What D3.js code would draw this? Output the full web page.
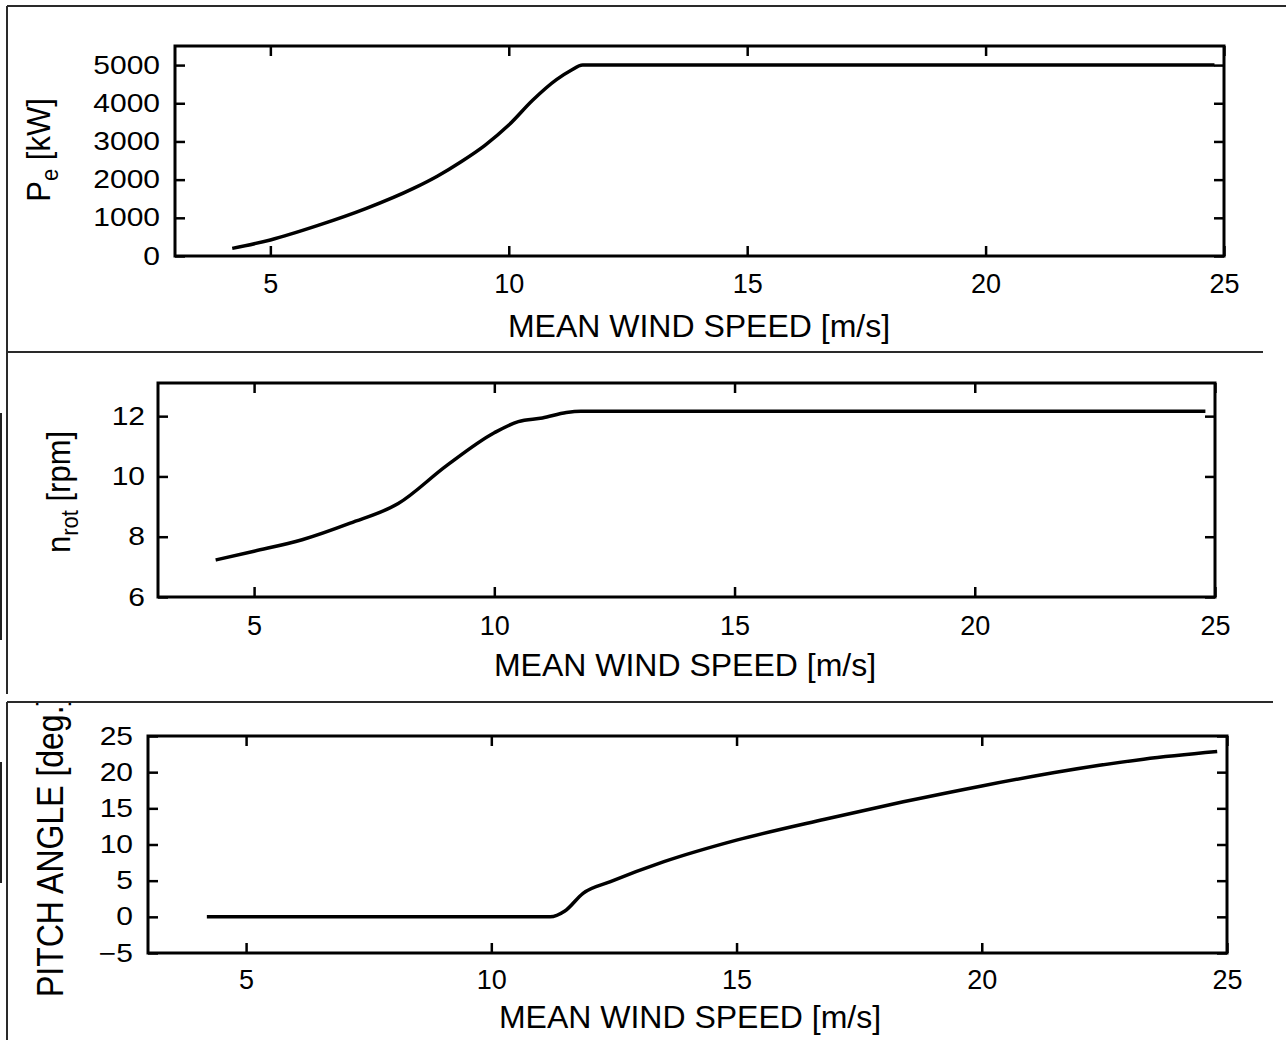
<!DOCTYPE html>
<html>
<head>
<meta charset="utf-8">
<script src="https://cdn.jsdelivr.net/npm/d3@7"></script>
<style>
  body { margin: 0; background: #fff; }
  svg text { font-family: "Liberation Sans", Arial, Helvetica, sans-serif; fill: #000; }
</style>
</head>
<body>
<script>
// data
const windPower = [4.2, 5, 6, 7, 8, 8.5, 9, 9.5, 10, 10.5, 11, 11.3, 11.55, 13, 16, 20, 24.8];
const power = [200, 420, 800, 1240, 1770, 2090, 2470, 2900, 3430, 4080, 4620, 4860, 5000, 5000, 5000, 5000, 5000];

const windRotor = [4.2, 5, 6, 7, 8, 9, 10, 10.5, 11, 11.5, 11.8, 15, 20, 24.8];
const rotorSpeed = [7.23, 7.52, 7.9, 8.45, 9.1, 10.35, 11.45, 11.82, 11.94, 12.12, 12.16, 12.16, 12.16, 12.16];

const windPitch = [4.2, 8, 11.2, 11.5, 11.87, 12.43, 13.52, 15, 16.8, 18.4, 20, 21.7, 23.3, 24.8];
const pitch = [0, 0, 0, 0.8, 3.25, 4.86, 7.62, 10.6, 13.5, 15.9, 18.1, 20.2, 21.8, 22.85];

const xTicks = [5, 10, 15, 20, 25];
const powerTicks = [0, 1000, 2000, 3000, 4000, 5000];
const rotorTicks = [6, 8, 10, 12];
const pitchTicks = [-5, 0, 5, 10, 15, 20, 25];

const width = 1286, height = 1040;

const svg = d3.select('body')
  .append('svg')
  .attr('width', width)
  .attr('height', height);

// scanned frame lines around the panels
const frame = [
  [7, 6, 1286, 6], [7, 6, 7, 694], [7, 352, 1263, 352],
  [7, 702, 1273, 702], [7, 702, 7, 1040]
];
svg.selectAll('line.frame')
  .data(frame)
  .enter()
  .append('line')
  .attr('x1', d => d[0]).attr('y1', d => d[1])
  .attr('x2', d => d[2]).attr('y2', d => d[3])
  .attr('stroke', '#2a2a2a')
  .attr('stroke-width', 2);

// little scan artifacts on the far left
svg.selectAll('line.scrap')
  .data([[413, 640], [762, 883]])
  .enter()
  .append('line')
  .attr('x1', 1).attr('x2', 1)
  .attr('y1', d => d[0]).attr('y2', d => d[1])
  .attr('stroke', '#222')
  .attr('stroke-width', 2);

svg.append('clipPath').attr('id', 'clip3')
  .append('rect').attr('x', 0).attr('y', 703).attr('width', 300).attr('height', 340);

const panels = [
  { xs: windPower, ys: power, ticks: powerTicks, yDomain: [0, 5500],
    left: 175, right: 1224, top: 46, bottom: 256,
    xPad: 18, yPad: 15, titleX: 699, titleY: 337 },
  { xs: windRotor, ys: rotorSpeed, ticks: rotorTicks, yDomain: [6, 13.1],
    left: 158, right: 1215, top: 383, bottom: 597,
    xPad: 19, yPad: 13, titleX: 685, titleY: 676 },
  { xs: windPitch, ys: pitch, ticks: pitchTicks, yDomain: [-5, 25],
    left: 148, right: 1227, top: 736, bottom: 953,
    xPad: 17, yPad: 15, titleX: 690, titleY: 1028 }
];

panels.forEach((p, i) => {
  const x = d3.scaleLinear().domain([3, 25]).range([p.left, p.right]);
  const y = d3.scaleLinear().domain(p.yDomain).range([p.bottom, p.top]);
  const g = svg.append('g');

  // bottom axis with labels, ticks pointing inward
  const xb = g.append('g')
    .attr('transform', `translate(0, ${p.bottom})`)
    .call(d3.axisBottom(x).tickValues(xTicks).tickSizeInner(-10).tickSizeOuter(0).tickPadding(p.xPad));
  // mirrored top ticks
  const xt = g.append('g')
    .attr('transform', `translate(0, ${p.top})`)
    .call(d3.axisTop(x).tickValues(xTicks).tickSizeInner(-10).tickSizeOuter(0).tickFormat(''));

  const yl = g.append('g')
    .attr('transform', `translate(${p.left}, 0)`)
    .call(d3.axisLeft(y).tickValues(p.ticks).tickSizeInner(-10).tickSizeOuter(0).tickPadding(p.yPad)
      .tickFormat(d => d < 0 ? '\u2212' + Math.abs(d) : d));
  const yr = g.append('g')
    .attr('transform', `translate(${p.right}, 0)`)
    .call(d3.axisRight(y).tickValues(p.ticks).tickSizeInner(-10).tickSizeOuter(0).tickFormat(''));

  [xb, xt, yl, yr].forEach(a => {
    a.select('.domain').remove();
    a.selectAll('line').attr('stroke', '#000').attr('stroke-width', 2.5);
  });
  xb.selectAll('text').attr('font-size', 27);
  // y labels in the scan look a bit wider
  yl.selectAll('text')
    .attr('font-size', 25)
    .attr('x', -p.yPad / 1.2)
    .attr('transform', 'scale(1.2,1)');

  g.append('rect')
    .attr('x', p.left).attr('y', p.top)
    .attr('width', p.right - p.left).attr('height', p.bottom - p.top)
    .attr('fill', 'none').attr('stroke', '#000').attr('stroke-width', 3);

  const line = d3.line()
    .x((d, k) => x(p.xs[k]))
    .y(d => y(d))
    .curve(d3.curveMonotoneX);
  g.append('path')
    .attr('d', line(p.ys))
    .attr('fill', 'none')
    .attr('stroke', '#000')
    .attr('stroke-width', 3.5)
    .attr('stroke-linejoin', 'round');

  g.append('text')
    .text('MEAN WIND SPEED [m/s]')
    .attr('x', p.titleX)
    .attr('y', p.titleY)
    .attr('text-anchor', 'middle')
    .attr('font-size', 32);
});

// y axis titles
const t1 = svg.append('text')
  .attr('text-anchor', 'middle')
  .attr('font-size', 31)
  .attr('transform', 'translate(50, 150) scale(1.05,1) rotate(-90)');
t1.append('tspan').text('P');
t1.append('tspan').text('e').attr('font-size', 22).attr('dy', 8);
t1.append('tspan').text(' [kW]').attr('dy', -8);

const t2 = svg.append('text')
  .attr('text-anchor', 'middle')
  .attr('font-size', 31)
  .attr('transform', 'translate(70, 492) scale(1.05,1) rotate(-90)');
t2.append('tspan').text('n');
t2.append('tspan').text('rot').attr('font-size', 22).attr('dy', 8);
t2.append('tspan').text(' [rpm]').attr('dy', -8);

// third title runs past the panel edge in the scan, so it is clipped there
svg.append('g')
  .attr('clip-path', 'url(#clip3)')
  .append('text')
  .text('PITCH ANGLE [deg.]')
  .attr('text-anchor', 'start')
  .attr('font-size', 32)
  .attr('transform', 'translate(63, 997) scale(1.15,1) rotate(-90)');
</script>
</body>
</html>
